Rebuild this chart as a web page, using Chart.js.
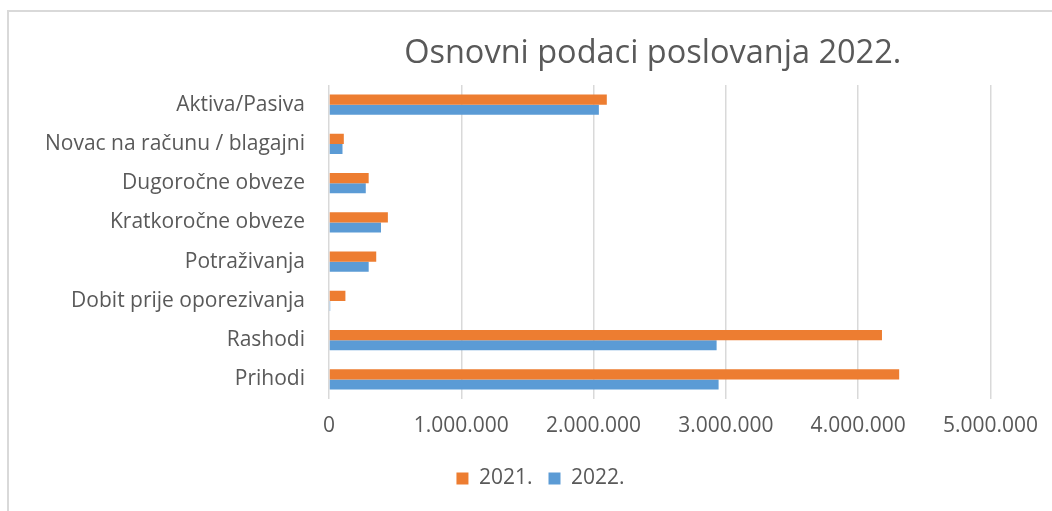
<!DOCTYPE html>
<html><head><meta charset="utf-8">
<script src="https://cdn.jsdelivr.net/npm/chart.js@4"></script>
<style>
html,body{margin:0;padding:0;background:#fff;overflow:hidden;width:1052px;height:511px}
#frame{position:absolute;left:7px;top:10px;width:1100px;height:600px;border-left:2px solid #d9d9d9;border-top:2px solid #d9d9d9}
#wrap{position:absolute;left:0;top:0;width:1052px;height:511px}
</style></head><body>
<div id="frame"></div>
<div id="wrap"><canvas id="c" width="1052" height="511"></canvas></div>
<script>
const categories = ['Aktiva/Pasiva','Novac na računu / blagajni','Dugoročne obveze','Kratkoročne obveze','Potraživanja','Dobit prije oporezivanja','Rashodi','Prihodi'];
const values2021 = [2100000, 112000, 300000, 445000, 357000, 124000, 4180000, 4310000];
const values2022 = [2040000, 102000, 278000, 393000, 300000, 9000, 2930000, 2945000];
const seriesNames = ['2021.', '2022.'];
const xTickValues = [0, 1000000, 2000000, 3000000, 4000000, 5000000];
const chartTitle = 'Osnovni podaci poslovanja 2022.';

const FONT = '"Open Sans", Lato, sans-serif';
const TEXT = '#595959';

function fmt(v){ return String(Math.round(v)).replace(/\B(?=(\d{3})+(?!\d))/g, '.'); }

const titlePlugin = {
  id: 'plotTitle',
  afterLayout(chart){
    const l = chart.legend;
    if (l) { l.left += 38; l.right += 38; }
  },
  afterDraw(chart){
    const ctx = chart.ctx, a = chart.chartArea;
    ctx.save();
    ctx.font = '32.5px ' + FONT;
    ctx.fillStyle = TEXT;
    ctx.textAlign = 'center';
    ctx.textBaseline = 'middle';
    ctx.fillText(chartTitle, (a.left + a.right) / 2 - 7, 54);
    ctx.restore();
  }
};

new Chart(document.getElementById('c'), {
  type: 'bar',
  data: {
    labels: categories,
    datasets: [
      { label: seriesNames[0], data: values2021, backgroundColor: '#ED7D31', categoryPercentage: 0.51, barPercentage: 1.0 },
      { label: seriesNames[1], data: values2022, backgroundColor: '#5B9BD5', categoryPercentage: 0.51, barPercentage: 1.0 }
    ]
  },
  options: {
    indexAxis: 'y',
    responsive: false,
    animation: false,
    devicePixelRatio: 1,
    layout: { padding: { left: 10, right: 57, top: 85, bottom: 12 } },
    plugins: {
      legend: {
        position: 'bottom',
        labels: { font: { family: FONT, size: 21 }, color: TEXT, boxWidth: 12, boxHeight: 12, padding: 16 }
      },
      tooltip: { enabled: false },
      title: { display: false }
    },
    scales: {
      x: {
        min: 0, max: 5000000,
        afterBuildTicks(s){ s.ticks = xTickValues.map(v => ({ value: v })); },
        afterFit(s){ s.height = 53; },
        grid: { color: '#d9d9d9', lineWidth: 1.5, drawTicks: false },
        border: { display: false },
        ticks: { font: { family: FONT, size: 21 }, color: TEXT, padding: 14, callback: v => fmt(v), maxRotation: 0 }
      },
      y: {
        afterFit(s){ s.width = 319; },
        grid: { display: false, drawTicks: false },
        border: { display: false },
        ticks: { font: { family: FONT, size: 21 }, color: TEXT, padding: 24 }
      }
    }
  },
  plugins: [titlePlugin]
});
</script>
</body></html>
